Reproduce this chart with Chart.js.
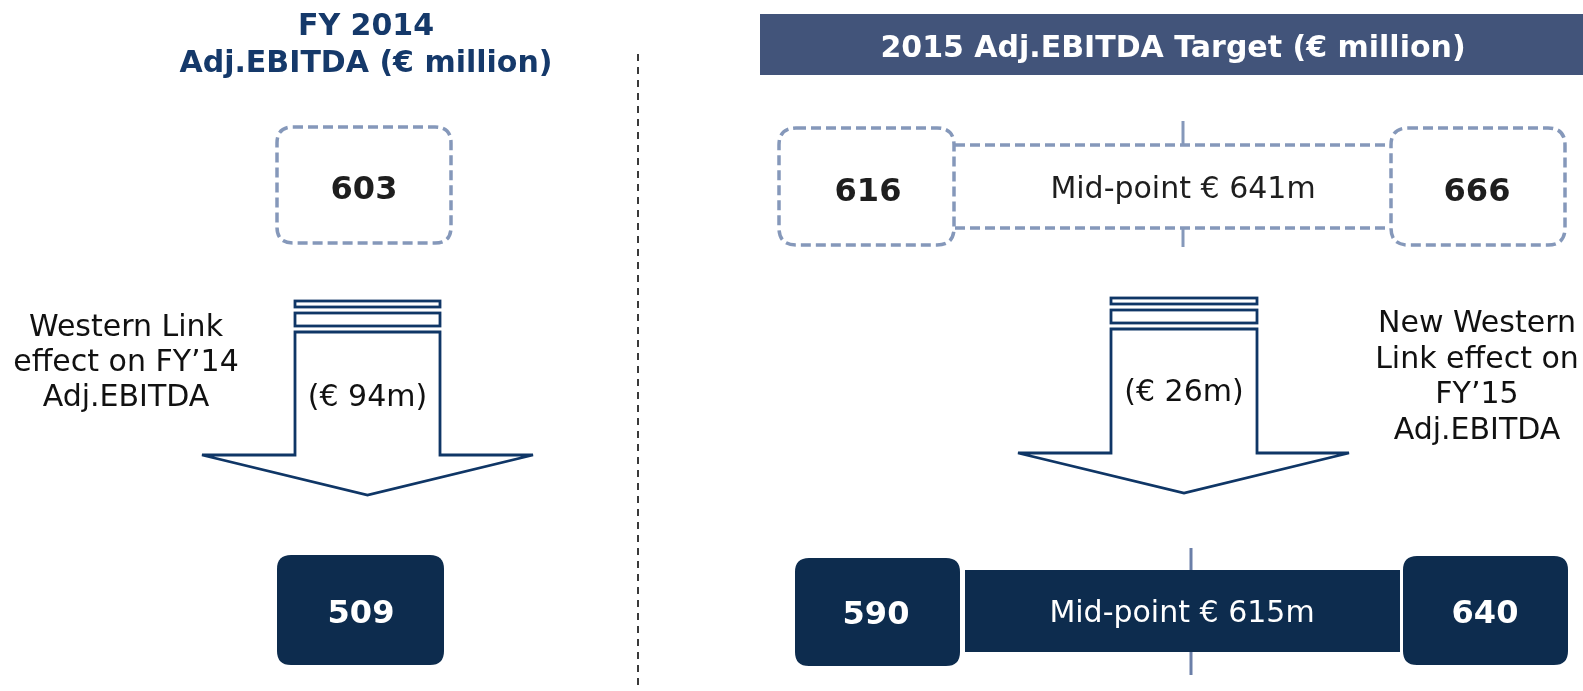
<!DOCTYPE html>
<html>
<head>
<meta charset="utf-8">
<script src="https://cdn.jsdelivr.net/npm/chart.js@4.4.1/dist/chart.umd.min.js"></script>
<style>
html,body{margin:0;padding:0;background:#fff;}
#wrap{width:1583px;height:691px;position:relative;}
</style>
</head>
<body>
<div id="wrap"><canvas id="c"></canvas></div>
<script>
// ---- data ----
const leftTitle = ['FY 2014', 'Adj.EBITDA (€ million)'];
const rightTitle = ['2015 Adj.EBITDA Target (€ million)'];
const fy14Values = [603, 509];            // before / after Western Link effect
const effects = [94, 26];                  // € m effect FY14 / FY15
const target15Before = [616, 641, 666];   // low, mid, high
const target15After = [590, 615, 640];    // low, mid, high
const effectLabels = [
  ['Western Link', 'effect on FY\u201914', 'Adj.EBITDA'],
  ['New Western', 'Link effect on', 'FY\u201915', 'Adj.EBITDA']
];

const FONT = '"DejaVu Sans", Verdana, sans-serif';
const NAVY = '#0d2c4e';
const DASH = '#8598ba';

function rr(ctx, x, y, w, h, r) {
  ctx.beginPath();
  ctx.moveTo(x + r, y);
  ctx.lineTo(x + w - r, y);
  ctx.quadraticCurveTo(x + w, y, x + w, y + r);
  ctx.lineTo(x + w, y + h - r);
  ctx.quadraticCurveTo(x + w, y + h, x + w - r, y + h);
  ctx.lineTo(x + r, y + h);
  ctx.quadraticCurveTo(x, y + h, x, y + h - r);
  ctx.lineTo(x, y + r);
  ctx.quadraticCurveTo(x, y, x + r, y);
  ctx.closePath();
}

const infographic = {
  id: 'infographic',
  afterDraw(chart) {
    const ctx = chart.ctx;
    const sx = chart.scales.x, sy = chart.scales.y;
    const X = v => sx.getPixelForValue(v);
    const Y = v => sy.getPixelForValue(v);
    const box = (x0, y0, x1, y1) => [X(x0), Y(y0), X(x1) - X(x0), Y(y1) - Y(y0)];
    ctx.save();
    ctx.textAlign = 'center';
    ctx.textBaseline = 'alphabetic';

    // divider
    ctx.strokeStyle = '#3a3a3a';
    ctx.lineWidth = 2;
    ctx.setLineDash([7, 6]);
    ctx.beginPath(); ctx.moveTo(X(638), Y(54)); ctx.lineTo(X(638), Y(691)); ctx.stroke();
    ctx.setLineDash([]);

    // left title
    ctx.fillStyle = '#15396a';
    ctx.font = 'bold 30px ' + FONT;
    ctx.fillText(leftTitle[0], X(366), Y(35));
    ctx.fillText(leftTitle[1], X(366), Y(72));

    // right header band
    ctx.fillStyle = '#42547a';
    ctx.fillRect(...box(760, 14, 1583, 75));
    ctx.fillStyle = '#ffffff';
    ctx.font = 'bold 30px ' + FONT;
    ctx.fillText(rightTitle[0], X(1173), Y(57));

    // ---- top dashed boxes ----
    ctx.lineWidth = 3.5;
    ctx.strokeStyle = DASH;
    ctx.setLineDash([10, 5]);
    rr(ctx, ...box(277, 127, 451, 243), 16);
    ctx.fillStyle = '#fff'; ctx.fill(); ctx.stroke();

    // right top: tick + mid rect
    ctx.setLineDash([]);
    ctx.lineWidth = 3;
    ctx.beginPath(); ctx.moveTo(X(1183), Y(121)); ctx.lineTo(X(1183), Y(247)); ctx.stroke();
    ctx.lineWidth = 3.5;
    ctx.fillStyle = '#fff';
    ctx.fillRect(...box(955, 145, 1390, 228));
    ctx.setLineDash([10, 5]);
    ctx.beginPath();
    ctx.moveTo(X(955), Y(145)); ctx.lineTo(X(1390), Y(145));
    ctx.moveTo(X(955), Y(228)); ctx.lineTo(X(1390), Y(228));
    ctx.stroke();
    rr(ctx, ...box(779, 128, 954, 245), 17); ctx.fill(); ctx.stroke();
    rr(ctx, ...box(1391, 128, 1565, 245), 17); ctx.fill(); ctx.stroke();
    ctx.setLineDash([]);

    ctx.fillStyle = '#1e1e1e';
    ctx.font = 'bold 32px ' + FONT;
    ctx.fillText(String(fy14Values[0]), X(364), Y(199));
    ctx.fillText(String(target15Before[0]), X(868), Y(201));
    ctx.fillText(String(target15Before[2]), X(1477), Y(201));
    ctx.font = '30px ' + FONT;
    ctx.fillText('Mid-point \u20ac ' + target15Before[1] + 'm', X(1183), Y(198));

    // ---- arrows ----
    function arrow(xl, xr, barTop, shaftTop, shaftBot, wl, wr, tipY, textY, val) {
      ctx.strokeStyle = '#0f3666';
      ctx.lineWidth = 2.8;
      ctx.lineJoin = 'miter';
      ctx.miterLimit = 2;
      ctx.fillStyle = '#fff';
      ctx.strokeRect(...box(xl, barTop, xr, barTop + 6));
      ctx.strokeRect(...box(xl, barTop + 12, xr, barTop + 25));
      const cx = (xl + xr) / 2;
      ctx.beginPath();
      ctx.moveTo(X(xl), Y(shaftTop));
      ctx.lineTo(X(xr), Y(shaftTop));
      ctx.lineTo(X(xr), Y(shaftBot));
      ctx.lineTo(X(wr), Y(shaftBot));
      ctx.lineTo(X(cx), Y(tipY));
      ctx.lineTo(X(wl), Y(shaftBot));
      ctx.lineTo(X(xl), Y(shaftBot));
      ctx.closePath();
      ctx.fill(); ctx.stroke();
      ctx.fillStyle = '#111';
      ctx.font = '30px ' + FONT;
      ctx.fillText('(\u20ac ' + val + 'm)', X(cx), Y(textY));
    }
    arrow(295, 440, 301, 332, 455, 202, 533, 495, 406, effects[0]);
    arrow(1111, 1257, 298, 329, 453, 1018, 1349, 493, 401, effects[1]);

    ctx.fillStyle = '#111';
    ctx.font = '30px ' + FONT;
    effectLabels[0].forEach((t, i) => ctx.fillText(t, X(126), Y(336 + i * 35)));
    effectLabels[1].forEach((t, i) => ctx.fillText(t, X(1477), Y(332 + i * 35.5)));

    // ---- bottom boxes ----
    ctx.fillStyle = NAVY;
    rr(ctx, ...box(277, 555, 444, 665), 14); ctx.fill();

    ctx.strokeStyle = '#6b7fa8';
    ctx.lineWidth = 3;
    ctx.beginPath(); ctx.moveTo(X(1191), Y(548)); ctx.lineTo(X(1191), Y(675)); ctx.stroke();
    ctx.fillStyle = NAVY;
    ctx.fillRect(...box(965, 570, 1400, 652));
    ctx.strokeStyle = '#ffffff';
    ctx.lineWidth = 2;
    rr(ctx, ...box(794, 557, 961, 667), 15); ctx.fill(); ctx.stroke();
    rr(ctx, ...box(1402, 555, 1569, 666), 15); ctx.fill(); ctx.stroke();

    ctx.fillStyle = '#ffffff';
    ctx.font = 'bold 32px ' + FONT;
    ctx.fillText(String(fy14Values[1]), X(361), Y(623));
    ctx.fillText(String(target15After[0]), X(876), Y(624));
    ctx.fillText(String(target15After[2]), X(1485), Y(623));
    ctx.font = '30px ' + FONT;
    ctx.fillText('Mid-point \u20ac ' + target15After[1] + 'm', X(1182), Y(622));

    ctx.restore();
  }
};

new Chart(document.getElementById('c'), {
  type: 'scatter',
  data: { datasets: [{ data: [], pointRadius: 0 }] },
  options: {
    responsive: true,
    maintainAspectRatio: false,
    animation: false,
    layout: { padding: 0 },
    plugins: { legend: { display: false }, tooltip: { enabled: false } },
    scales: {
      x: { type: 'linear', min: 0, max: 1583, display: false },
      y: { type: 'linear', min: 0, max: 691, reverse: true, display: false }
    }
  },
  plugins: [infographic]
});
</script>
</body>
</html>
